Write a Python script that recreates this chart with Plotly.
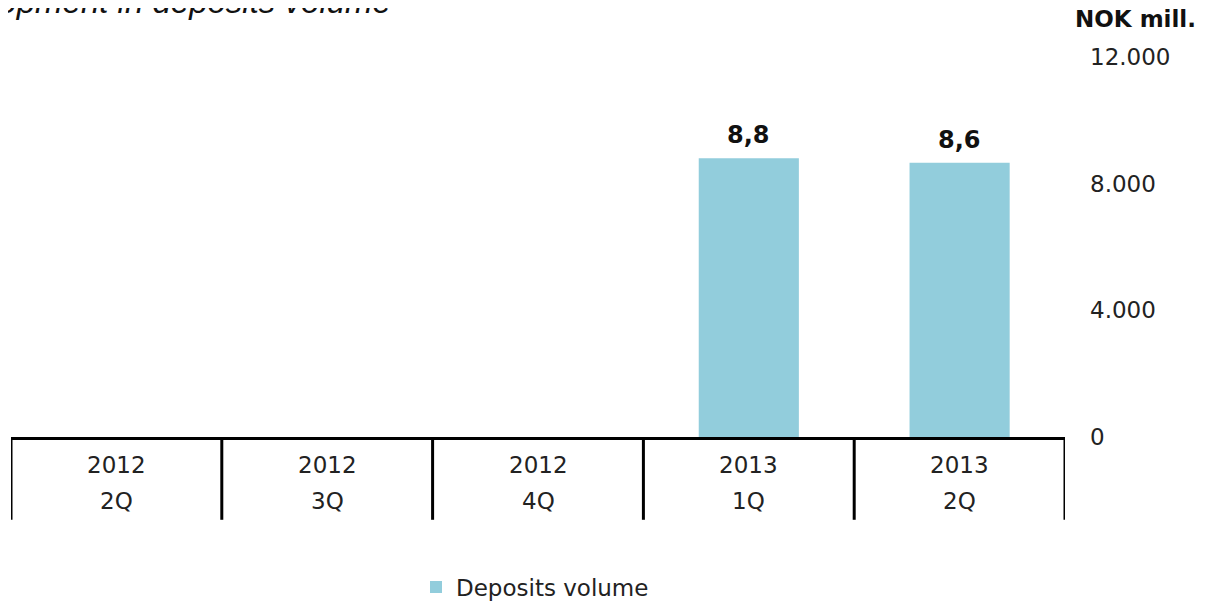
import plotly.graph_objects as go

years = ["2012", "2012", "2012", "2013", "2013"]
quarters = ["2Q", "3Q", "4Q", "1Q", "2Q"]
categories = [f"{y} {q}" for y, q in zip(years, quarters)]
deposits = [None, None, None, 8800, 8660]
value_labels = ["", "", "", "8,8", "8,6"]
y_ticks = [0, 4000, 8000, 12000]
series_name = "Deposits volume"
title_text = "Development in deposits volume"
unit_text = "NOK mill."

W, H = 1214, 602
OFF = 8  # page body margin in the browser
# desired plot area in screen pixels: x 11..1065, y 57..438
PL, PR, PT, PB = 11 - OFF, 1065 - OFF, 57 - OFF, 438 - OFF
L, R, T, B = PL, W - PR, PT, H - PB
plot_h = PB - PT
plot_w = PR - PL

def py(screen_y):
    return (PB - (screen_y - OFF)) / plot_h

def pxx(screen_x):
    return ((screen_x - OFF) - PL) / plot_w

FONT = "DejaVu Sans"

fig = go.Figure()
fig.add_trace(go.Bar(
    x=categories, y=deposits, name=series_name,
    marker=dict(color="#92CDDC", line=dict(width=0)),
    width=0.475,
))

annotations = []
for c, v, lab in zip(categories, deposits, value_labels):
    if v is not None and lab:
        annotations.append(dict(x=c, y=v, xref="x", yref="y", text=f"<b>{lab}</b>",
                                showarrow=False, yshift=23, yanchor="middle",
                                font=dict(family=FONT, size=24, color="#111")))
for c, yr, q in zip(categories, years, quarters):
    annotations.append(dict(x=c, y=py(466), xref="x", yref="paper", text=yr,
                            showarrow=False, yanchor="middle",
                            font=dict(family=FONT, size=23, color="#222")))
    annotations.append(dict(x=c, y=py(502), xref="x", yref="paper", text=q,
                            showarrow=False, yanchor="middle",
                            font=dict(family=FONT, size=23, color="#222")))
annotations.append(dict(x=pxx(1198), y=py(19), xref="paper", yref="paper",
                        text=f"<b>{unit_text}</b>", showarrow=False,
                        xanchor="right", yanchor="middle",
                        font=dict(family=FONT, size=23, color="#111")))
annotations.append(dict(x=pxx(393), y=py(22), xref="paper", yref="paper",
                        text=f"<i>{title_text}</i>", showarrow=False,
                        xanchor="right", yanchor="bottom",
                        font=dict(family="Liberation Sans", size=33, color="#111")))

shapes = []
n = len(categories)
for i in range(n + 1):
    shapes.append(dict(type="line", xref="x", yref="paper",
                       x0=i - 0.5, x1=i - 0.5, y0=0, y1=py(521),
                       line=dict(color="black", width=3)))

fig.update_layout(
    width=W, height=H,
    margin=dict(l=L, r=R, t=T, b=B),
    paper_bgcolor="white", plot_bgcolor="white",
    separators=",.",
    showlegend=True,
    legend=dict(orientation="h", x=pxx(535), xanchor="center", y=py(587), yanchor="middle",
                font=dict(family=FONT, size=23, color="#222")),
    annotations=annotations,
    shapes=shapes,
    xaxis=dict(range=[-0.5, n - 0.5], showticklabels=False, ticks="",
               showline=True, linecolor="black", linewidth=3, showgrid=False, zeroline=False),
    yaxis=dict(side="right", range=[0, 12000], tickvals=y_ticks, tickformat=",",
               showgrid=False, zeroline=False, showline=False, ticks="",
               ticklabelstandoff=24,
               tickfont=dict(family=FONT, size=23, color="#222")),
)

fig.write_html("out.html")
